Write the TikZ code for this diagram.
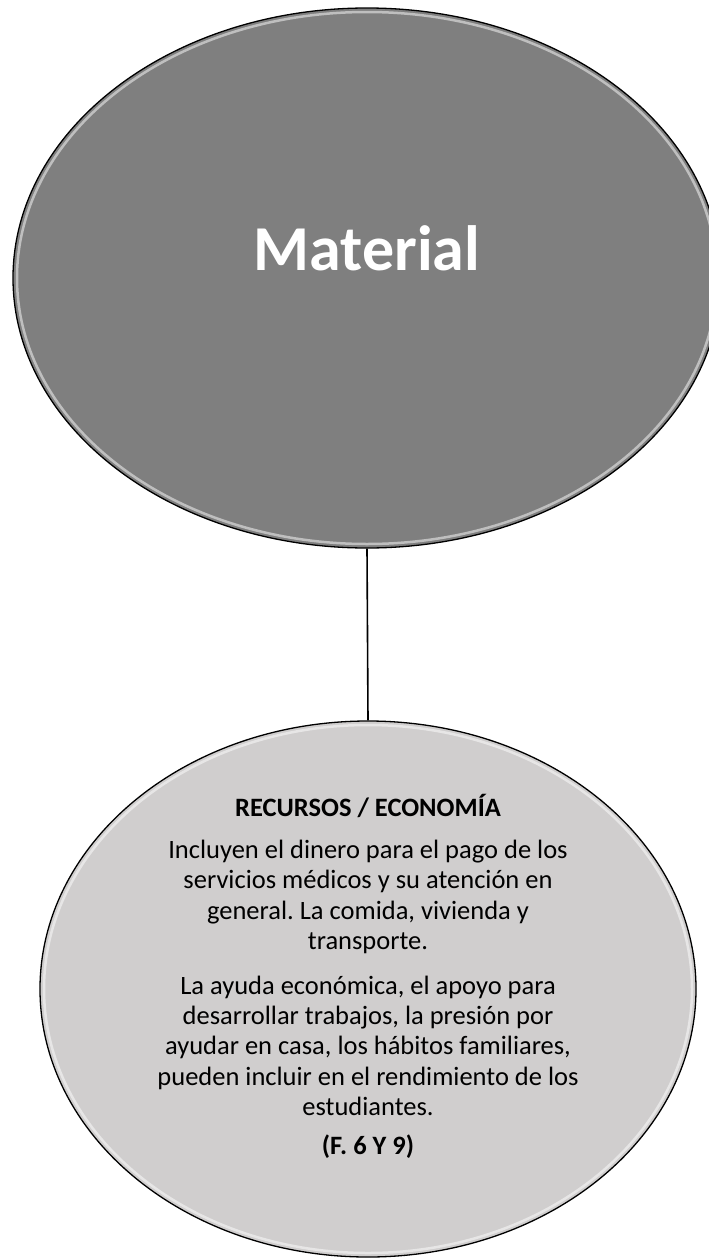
\documentclass[tikz,border=0pt]{standalone}
\usepackage{fontspec}
\setmainfont{Carlito}
\usetikzlibrary{shapes.geometric}
\definecolor{grisoscuro}{HTML}{7F7F7F}
\definecolor{grisclaro}{HTML}{D0CECE}
\frenchspacing
\begin{document}
\begin{tikzpicture}[x=1pt,y=-1pt]
	% Styles
	\tikzstyle{trazo}=[-,line width=1.6pt,black]
	\tikzstyle{burbuja}=[ellipse,draw=black,line width=1.3pt,inner sep=0pt]
	\tikzstyle{brillo}=[white,line width=2.5pt,opacity=.5]
	\tikzstyle{titulo}=[white,font=\fontsize{64}{76}\selectfont\bfseries]
	\tikzstyle{texto}=[black,align=center,inner sep=0pt,font=\fontsize{26.5}{30.3}\selectfont]
	% Dimensions
	\def\CentroX{367}
	\def\NivelA{278}
	\def\NivelB{989}
	\useasboundingbox (0,0) rectangle (709,1258);
	% Noeuds
	\node[burbuja,fill=grisoscuro,minimum width=708pt,minimum height=540pt] (material) at (\CentroX,\NivelA) {};
	\node[burbuja,fill=grisclaro,minimum width=656pt,minimum height=536pt] (recursos) at (\CentroX+1,\NivelB) {};
	\draw[brillo] (material.center) ellipse (350 and 266);
	\draw[brillo] (recursos.center) ellipse (324 and 264);
	%
	\node[titulo,anchor=base] (tituloA) at (\CentroX,270) {Material};
	\node[texto,anchor=north] (textoB) at (\CentroX+1,794) {%
		\textbf{RECURSOS / ECONOMÍA}\\[11.7pt]
		Incluyen el dinero para el pago de los\\
		servicios médicos y su atención en\\
		general. La comida, vivienda y\\
		transporte.\\[14.7pt]
		La ayuda económica, el apoyo para\\
		desarrollar trabajos, la presión por\\
		ayudar en casa, los hábitos familiares,\\
		pueden incluir en el rendimiento de los\\
		estudiantes.\\[9pt]
		\textbf{(F. 6 Y 9)}};
	% Arcs
	\draw[trazo] (material.south)--(recursos.north);
\end{tikzpicture}
\end{document}
